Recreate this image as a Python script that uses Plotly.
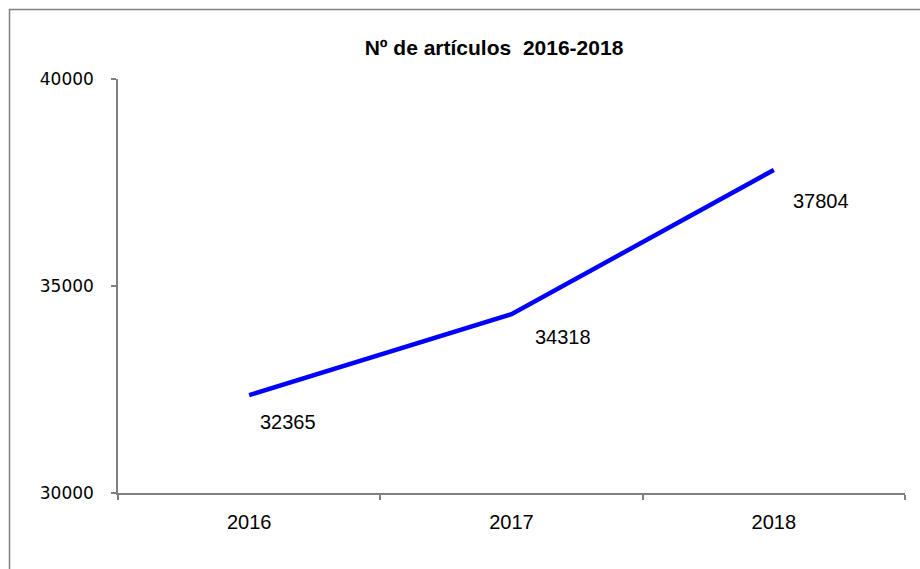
import plotly.graph_objects as go

years = ["2016", "2017", "2018"]
articles = [32365, 34318, 37804]
y_ticks = [30000, 35000, 40000]

# label pixel offsets (style only)
label_dx = [39, 51, 47]
label_dy = [-27, -23, -31]

W, H = 920, 569
L, R, T, B = 118, 15, 79, 76
pw = W - L - R
ph = H - T - B

fig = go.Figure()
fig.add_trace(go.Scatter(
    x=years, y=articles, mode="lines",
    line=dict(color="#0000FF", width=4.5),
    hoverinfo="skip", showlegend=False,
))

for i, (yv, dx, dy) in enumerate(zip(articles, label_dx, label_dy)):
    fig.add_annotation(
        x=i, y=yv, xref="x", yref="y", text=str(yv), showarrow=False,
        xshift=dx, yshift=dy,
        font=dict(family="Liberation Sans, Arial", size=20, color="#000000"),
        xanchor="center", yanchor="middle",
    )

# outer chart border
fig.add_shape(
    type="rect", xref="paper", yref="paper",
    x0=(9.5 - L) / pw, x1=(W + 10 - L) / pw,
    y0=(H - B - (H + 10)) / ph, y1=(H - B - 9.5) / ph,
    line=dict(color="#808080", width=1.5), fillcolor="rgba(0,0,0,0)",
    layer="above",
)

fig.update_layout(
    width=W, height=H,
    margin=dict(l=L, r=R, t=T, b=B),
    paper_bgcolor="white", plot_bgcolor="white",
    title=dict(
        text="<b>Nº de artículos  2016-2018</b>",
        x=(494 - L) / pw, xref="paper", xanchor="center",
        y=1 - 47.5 / H, yref="container", yanchor="middle",
        font=dict(family="Liberation Sans, Arial", size=21, color="#000000"),
    ),
    xaxis=dict(
        type="category", range=[-0.5, 2.5],
        showgrid=False, zeroline=False,
        showline=True, linecolor="#808080", linewidth=1.5,
        ticks="outside", tickson="boundaries", ticklen=5, tickcolor="#808080", tickwidth=1.5,
        tickfont=dict(family="Liberation Sans, Arial", size=20, color="#000000"),
        ticklabelstandoff=10,
        fixedrange=True,
    ),
    yaxis=dict(
        range=[30000, 40000], tickvals=y_ticks, ticktext=[str(v) for v in y_ticks],
        showgrid=False, zeroline=False,
        showline=True, linecolor="#808080", linewidth=1.5,
        ticks="outside", ticklen=5, tickcolor="#808080", tickwidth=1.5,
        tickfont=dict(family="DejaVu Sans", size=17, color="#000000"),
        ticklabelstandoff=14,
        fixedrange=True,
    ),
)

fig.write_html("out.html", config={"displayModeBar": False},
               post_script="document.body.style.margin='0';")
